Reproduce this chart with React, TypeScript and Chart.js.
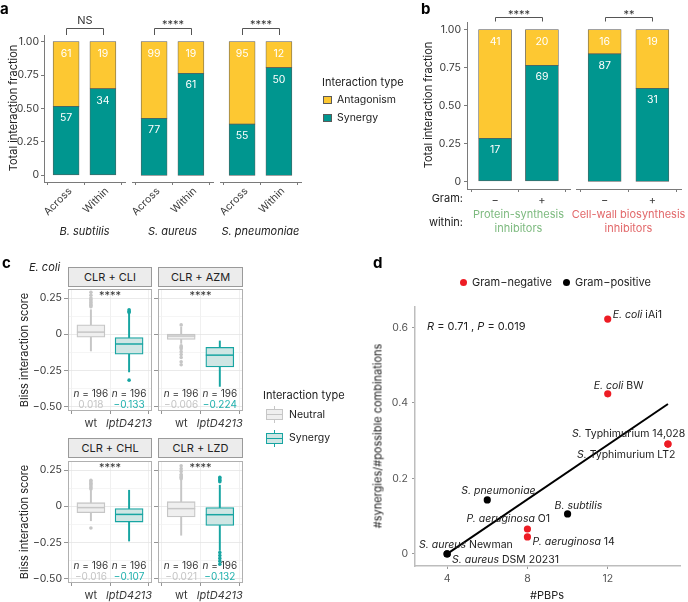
import React, { useEffect, useRef } from 'react';
import { Chart, registerables } from 'chart.js';
Chart.register(...registerables);

const W = 688;
const H = 602;
const FONT = 'Inter, "Noto Sans", sans-serif';
Chart.defaults.font.family = FONT;

// ---------------- Panel a data ----------------
const aSpecies = ['B. subtilis', 'S. aureus', 'S. pneumoniae'];
const aCategories = ['Across', 'Within'];
const aSynergyFraction = [[0.516, 0.648], [0.426, 0.763], [0.383, 0.806]];
const aSynergyCount = [[57, 34], [77, 61], [55, 50]];
const aAntagonismCount = [[61, 19], [99, 19], [95, 12]];
const aSignificance = ['NS', '****', '****'];

const fracTicks = [0, 0.25, 0.5, 0.75, 1];
const fracTickLabels = ['0', '0.25', '0.50', '0.75', '1.00'];

// ---------------- Panel b data ----------------
const bGroups = [['Protein-synthesis', 'inhibitors'], ['Cell-wall biosynthesis', 'inhibitors']];
const bGram = ['−', '+'];
const bSynergyFraction = [[0.284, 0.764], [0.84, 0.613]];
const bSynergyCount = [[17, 69], [87, 31]];
const bAntagonismCount = [[41, 20], [16, 19]];
const bSignificance = ['****', '**'];

// ---------------- Panel c data ----------------
const cPanels = ['CLR + CLI', 'CLR + AZM', 'CLR + CHL', 'CLR + LZD'];
const cStrains = ['wt', 'lptD4213'];
// [lower whisker, Q1, median, Q3, upper whisker]
const cWtBox = [
  [-0.115, -0.02, 0.015, 0.065, 0.17],
  [-0.063, -0.035, -0.012, 0.002, 0.05],
  [-0.1, -0.044, -0.009, 0.025, 0.11],
  [-0.2, -0.074, -0.016, 0.032, 0.18],
];
const cLptBox = [
  [-0.26, -0.137, -0.067, -0.023, 0.14],
  [-0.36, -0.225, -0.144, -0.09, -0.046],
  [-0.24, -0.109, -0.056, -0.016, 0.111],
  [-0.305, -0.132, -0.058, -0.009, 0.146],
];
const cWtOutliers = [
  [0.19, 0.2, 0.21, 0.22, 0.23, 0.24, 0.25, 0.27, 0.29],
  [0.065, -0.08, -0.09, -0.1, -0.12, -0.14, -0.16, -0.19, -0.21],
  [0.12, 0.13, 0.14, 0.15, 0.16, 0.17, 0.18, -0.15],
  [0.19, 0.2, 0.21, 0.22, 0.24, 0.26, 0.28],
];
const cLptOutliers = [
  [0.15, 0.16, 0.17, -0.317],
  [],
  [],
  [0.17, 0.18, 0.19, 0.2, -0.32, -0.34, -0.36, -0.38, -0.4],
];
const cCounts = [[196, 196], [196, 196], [196, 196], [196, 196]];
const cMedianText = [['0.018', '−0.133'], ['−0.006', '−0.224'], ['−0.016', '−0.107'], ['−0.021', '−0.132']];
const cSignificance = ['****', '****', '****', '****'];
const cMajorTicks = [-0.5, -0.25, 0, 0.25];
const cMajorTickLabels = ['−0.50', '−0.25', '0', '0.25'];
const cMinorTicks = [-0.375, -0.125, 0.125];

// ---------------- Panel d data ----------------
const dPBPs = [12, 12, 15, 15, 6, 10, 8, 8, 4, 4];
const dRatio = [0.622, 0.424, 0.291, 0.291, 0.143, 0.106, 0.066, 0.045, 0, 0];
const dGram = ['neg', 'neg', 'neg', 'neg', 'pos', 'pos', 'neg', 'neg', 'pos', 'pos'];
const dSpecies = ['E. coli', 'E. coli', 'S.', 'S.', 'S. pneumoniae', 'B. subtilis', 'P. aeruginosa', 'P. aeruginosa', 'S. aureus', 'S. aureus'];
const dStrain = ['iAi1', 'BW', 'Typhimurium 14,028', 'Typhimurium LT2', '', '', 'O1', '14', 'Newman', 'DSM 20231'];
const dFitX = [4, 15];
const dFitY = [0.0, 0.397];
const dXTicks = [4, 8, 12];
const dYTicks = [0, 0.2, 0.4, 0.6];
const dYTickLabels = ['0', '0.2', '0.4', '0.6'];

// ---------------- styles / layout ----------------
const TEAL = '#00968F';
const YELLOW = '#FDC832';
const BAR_EDGE = '#5a5a5a';
const AXIS = '#7a7a7a';
const TICK_TXT = '#3a3a3a';
const NEUTRAL_LINE = '#c6c6c6';
const NEUTRAL_FILL = '#efefef';
const SYN_LINE = '#17A5A2';
const SYN_FILL = '#cfe6e4';
const RED = '#ED1C24';
const GREEN_TXT = '#7dba7f';
const RED_TXT = '#e2686a';

const A_RECTS = [[44, 35, 125, 182], [132, 35, 213, 182], [220, 35, 301, 182]];
const B_RECTS = [[467, 22, 570, 189], [576, 22, 681, 189]];
const C_RECTS = [[68, 289, 152, 411], [158, 289, 243, 411], [68, 461, 152, 583], [158, 461, 243, 583]];
const D_RECT = [415, 307, 680, 566];
const D_LABEL_OFFSETS = [[5, -1], [-14, -5], [-96, -7], [-91, 14], [-26, -6], [-13, -5], [-61, -7], [5, 8], [-28, -6], [5, 9]];

type Part = { t: string; it?: boolean; c?: string };
function drawRich(ctx: CanvasRenderingContext2D, parts: Part[], x: number, y: number, align: 'left' | 'center', size: number, color = '#222') {
  ctx.textBaseline = 'alphabetic';
  ctx.textAlign = 'left';
  const fonts = parts.map((p) => `${p.it ? 'italic ' : ''}${size}px ${FONT}`);
  const widths = parts.map((p, i) => {
    ctx.font = fonts[i];
    return ctx.measureText(p.t).width;
  });
  const total = widths.reduce((a, b) => a + b, 0);
  let cx = align === 'center' ? x - total / 2 : x;
  parts.forEach((p, i) => {
    ctx.font = fonts[i];
    ctx.fillStyle = p.c || color;
    ctx.fillText(p.t, cx, y);
    cx += widths[i];
  });
}

function bracketPlugin(text: string, top: number, bottom: number, baseline: number) {
  return {
    id: 'bracket',
    afterDraw(chart: any) {
      const { ctx, scales } = chart;
      const x1 = Math.round(scales.x.getPixelForValue(1)) + 0.5;
      const x2 = Math.round(scales.x.getPixelForValue(2)) + 0.5;
      ctx.save();
      ctx.strokeStyle = '#555';
      ctx.lineWidth = 1;
      ctx.beginPath();
      ctx.moveTo(x1, bottom);
      ctx.lineTo(x1, top + 0.5);
      ctx.lineTo(x2, top + 0.5);
      ctx.lineTo(x2, bottom);
      ctx.stroke();
      ctx.fillStyle = '#333';
      ctx.font = `11px ${FONT}`;
      ctx.textAlign = 'center';
      ctx.textBaseline = 'alphabetic';
      ctx.fillText(text, (x1 + x2) / 2, baseline);
      ctx.restore();
    },
  };
}

function countPlugin(frac: number[], syn: number[], ant: number[]) {
  return {
    id: 'counts',
    afterDatasetsDraw(chart: any) {
      const { ctx, scales } = chart;
      ctx.save();
      ctx.fillStyle = '#fff';
      ctx.font = `10.5px ${FONT}`;
      ctx.textAlign = 'center';
      ctx.textBaseline = 'alphabetic';
      frac.forEach((f, i) => {
        const px = scales.x.getPixelForValue(i + 1);
        ctx.fillText(String(ant[i]), px, scales.y.getPixelForValue(1) + 15);
        ctx.fillText(String(syn[i]), px, scales.y.getPixelForValue(f) + 15);
      });
      ctx.restore();
    },
  };
}

function barFacet(p: {
  rect: number[]; showY: boolean; frac: number[]; syn: number[]; ant: number[]; cats: string[];
  rotate: boolean; barW: number; xH: number; yW: number; yPad: number; tickSize: number; xPad: number; labelOffset: number;
  signif: string; bTop: number; bBottom: number; sBase: number;
}) {
  const [l, t, r, b] = p.rect;
  const yW = p.showY ? p.yW : 0;
  const synData = p.frac.map((f, i) => ({ x: i + 1, y: f }));
  const antData = p.frac.map((f, i) => ({ x: i + 1, y: 1 - f }));
  return {
    type: 'bar',
    data: {
      datasets: [
        { label: 'Synergy', data: synData, backgroundColor: TEAL, borderColor: BAR_EDGE, borderWidth: 0.7, borderSkipped: false, barThickness: p.barW },
        { label: 'Antagonism', data: antData, backgroundColor: YELLOW, borderColor: BAR_EDGE, borderWidth: 0.7, borderSkipped: false, barThickness: p.barW },
      ],
    },
    options: {
      animation: false, responsive: false, events: [],
      layout: { autoPadding: false, padding: { left: l - yW, top: t, right: W - r, bottom: H - b - p.xH } },
      plugins: { legend: { display: false }, tooltip: { enabled: false } },
      scales: {
        x: {
          type: 'linear', stacked: true, min: 0.4, max: 2.6, offset: false,
          afterBuildTicks: (s: any) => { s.ticks = [{ value: 1 }, { value: 2 }]; },
          afterFit: (s: any) => { s.height = p.xH; },
          ticks: {
            callback: (v: any) => p.cats[Math.round(v) - 1], autoSkip: false,
            maxRotation: p.rotate ? 45 : 0, minRotation: p.rotate ? 45 : 0, labelOffset: p.labelOffset,
            color: TICK_TXT, font: { size: p.tickSize }, padding: p.xPad,
          },
          grid: { display: true, drawOnChartArea: false, drawTicks: true, tickLength: 3, tickColor: AXIS, color: AXIS },
          border: { display: true, color: AXIS, width: 1 },
        },
        y: {
          display: p.showY, stacked: true, min: -0.05, max: 1.05,
          afterBuildTicks: (s: any) => { s.ticks = fracTicks.map((v) => ({ value: v })); },
          afterFit: (s: any) => { s.width = yW; },
          ticks: { callback: (_v: any, i: number) => fracTickLabels[i], color: TICK_TXT, font: { size: 10.5 }, padding: p.yPad },
          grid: { display: true, drawOnChartArea: false, tickLength: 3, tickColor: AXIS, color: AXIS },
          border: { display: true, color: AXIS, width: 1 },
        },
      },
    },
    plugins: [countPlugin(p.frac, p.syn, p.ant), bracketPlugin(p.signif, p.bTop, p.bBottom, p.sBase)],
  };
}

function boxFacet(i: number) {
  const [l, t, r, b] = C_RECTS[i];
  const showY = i % 2 === 0;
  const yW = showY ? 50 : 0;
  const xH = 20;
  const wt = cWtBox[i];
  const lp = cLptBox[i];
  const lineCols = [NEUTRAL_LINE, SYN_LINE];
  const fillCols = [NEUTRAL_FILL, SYN_FILL];
  const textPlugin = {
    id: 'boxText',
    afterDraw(chart: any) {
      const { ctx, chartArea: ca, scales } = chart;
      ctx.save();
      ctx.strokeStyle = '#b0b0b0';
      ctx.lineWidth = 1;
      ctx.strokeRect(ca.left + 0.5, ca.top + 0.5, ca.right - ca.left - 1, ca.bottom - ca.top - 1);
      ctx.fillStyle = '#333';
      ctx.font = `11px ${FONT}`;
      ctx.textAlign = 'center';
      ctx.textBaseline = 'alphabetic';
      ctx.fillText(cSignificance[i], (ca.left + ca.right) / 2, ca.top + 10);
      [0, 1].forEach((k) => {
        const px = scales.x.getPixelForValue(k + 1);
        drawRich(ctx, [{ t: 'n', it: true }, { t: ' = ' + cCounts[i][k] }], px, ca.bottom - 14, 'center', 10, '#333');
        drawRich(ctx, [{ t: cMedianText[i][k] }], px, ca.bottom - 3, 'center', 10, k === 0 ? '#c4c4c4' : '#1fb0ad');
      });
      ctx.restore();
    },
  };
  return {
    type: 'bar',
    data: {
      datasets: [
        { type: 'scatter', label: 'wt outliers', data: cWtOutliers[i].map((v) => ({ x: 1, y: v })), pointRadius: 1.8, backgroundColor: NEUTRAL_LINE, pointBackgroundColor: NEUTRAL_LINE, pointBorderWidth: 0, order: 0 },
        { type: 'scatter', label: 'lptD outliers', data: cLptOutliers[i].map((v) => ({ x: 2, y: v })), pointRadius: 1.8, backgroundColor: SYN_LINE, pointBackgroundColor: SYN_LINE, pointBorderWidth: 0, order: 0 },
        { type: 'scatter', label: 'median', data: [{ x: 1, y: wt[2] }, { x: 2, y: lp[2] }], pointStyle: 'line', pointRadius: 14, pointBorderColor: lineCols, borderColor: lineCols, pointBorderWidth: 1.5, order: 1 },
        { type: 'bar', label: 'box', data: [{ x: 1, y: [wt[1], wt[3]] }, { x: 2, y: [lp[1], lp[3]] }], backgroundColor: fillCols, borderColor: lineCols, borderWidth: 1.3, borderSkipped: false, barThickness: 28, grouped: false, order: 2 },
        { type: 'bar', label: 'whiskers', data: [{ x: 1, y: [wt[3], wt[4]] }, { x: 1, y: [wt[0], wt[1]] }, { x: 2, y: [lp[3], lp[4]] }, { x: 2, y: [lp[0], lp[1]] }], backgroundColor: [NEUTRAL_LINE, NEUTRAL_LINE, SYN_LINE, SYN_LINE], borderWidth: 0, barThickness: 1.3, grouped: false, order: 3 },
      ],
    },
    options: {
      animation: false, responsive: false, events: [],
      layout: { autoPadding: false, padding: { left: l - yW, top: t, right: W - r, bottom: H - b - xH } },
      plugins: { legend: { display: false }, tooltip: { enabled: false } },
      scales: {
        x: {
          type: 'linear', min: 0.4, max: 2.6, offset: false,
          afterBuildTicks: (s: any) => { s.ticks = [{ value: 1 }, { value: 2 }]; },
          afterFit: (s: any) => { s.height = xH; },
          ticks: {
            callback: (v: any) => cStrains[Math.round(v) - 1], autoSkip: false, maxRotation: 0,
            color: TICK_TXT, font: (ctx: any) => ({ size: 11, style: ctx.index === 1 ? 'italic' : 'normal' }), padding: 3,
          },
          grid: { color: '#ececec', tickColor: AXIS, tickLength: 3, lineWidth: 0.8 },
          border: { display: false },
        },
        y: {
          min: -0.53, max: 0.313,
          afterBuildTicks: (s: any) => { s.ticks = [...cMajorTicks, ...cMinorTicks].sort((a, c) => a - c).map((v) => ({ value: v })); },
          afterFit: (s: any) => { s.width = yW; },
          ticks: {
            display: showY,
            callback: (v: any) => { const k = cMajorTicks.indexOf(v); return k >= 0 ? cMajorTickLabels[k] : ''; },
            color: TICK_TXT, font: { size: 10.5 }, padding: 2,
          },
          grid: {
            color: (ctx: any) => (cMajorTicks.includes(ctx.tick && ctx.tick.value) ? '#e4e4e4' : '#f2f2f2'),
            tickColor: (ctx: any) => (cMajorTicks.includes(ctx.tick && ctx.tick.value) ? AXIS : 'rgba(0,0,0,0)'),
            tickLength: 4, lineWidth: 0.8,
          },
          border: { display: false },
        },
      },
    },
    plugins: [textPlugin],
  };
}

function scatterD() {
  const [l, t, r, b] = D_RECT;
  const yW = 40;
  const xH = 25;
  const pts = dPBPs.map((x, i) => ({ x, y: dRatio[i] }));
  const labelPlugin = {
    id: 'dLabels',
    afterDatasetsDraw(chart: any) {
      const { ctx, scales } = chart;
      ctx.save();
      dPBPs.forEach((px, i) => {
        const [dx, dy] = D_LABEL_OFFSETS[i];
        const parts: Part[] = [{ t: dSpecies[i], it: true }];
        if (dStrain[i]) parts.push({ t: ' ' + dStrain[i] });
        drawRich(ctx, parts, scales.x.getPixelForValue(px) + dx, scales.y.getPixelForValue(dRatio[i]) + dy, 'left', 10.5, '#222');
      });
      ctx.restore();
    },
  };
  return {
    type: 'scatter',
    data: {
      datasets: [
        { label: 'Gram−negative', data: pts.filter((_, i) => dGram[i] === 'neg'), pointRadius: 3.6, backgroundColor: RED, pointBackgroundColor: RED, pointBorderWidth: 0, order: 0 },
        { label: 'Gram−positive', data: pts.filter((_, i) => dGram[i] === 'pos'), pointRadius: 3.6, backgroundColor: '#000', pointBackgroundColor: '#000', pointBorderWidth: 0, order: 0 },
        { type: 'line', label: 'fit', data: dFitX.map((x, i) => ({ x, y: dFitY[i] })), borderColor: '#000', borderWidth: 2, pointRadius: 0, showLine: true, order: 1 },
      ],
    },
    options: {
      animation: false, responsive: false, events: [],
      layout: { autoPadding: false, padding: { left: l - yW, top: t, right: W - r, bottom: H - b - xH } },
      plugins: { legend: { display: false }, tooltip: { enabled: false } },
      scales: {
        x: {
          type: 'linear', min: 2.4, max: 15.6,
          afterBuildTicks: (s: any) => { s.ticks = dXTicks.map((v) => ({ value: v })); },
          afterFit: (s: any) => { s.height = xH; },
          ticks: { callback: (v: any) => String(v), color: '#555', font: { size: 10.5 }, padding: 4 },
          grid: { drawOnChartArea: false, tickLength: 3, tickColor: '#999', color: '#999' },
          border: { display: true, color: '#bdbdbd', width: 1.5 },
        },
        y: {
          type: 'linear', min: -0.032, max: 0.654,
          afterBuildTicks: (s: any) => { s.ticks = dYTicks.map((v) => ({ value: v })); },
          afterFit: (s: any) => { s.width = yW; },
          ticks: { callback: (_v: any, i: number) => dYTickLabels[i], color: '#555', font: { size: 10.5 }, padding: 4 },
          grid: { drawOnChartArea: false, tickLength: 3, tickColor: '#999', color: '#999' },
          border: { display: true, color: '#bdbdbd', width: 1.5 },
        },
      },
    },
    plugins: [labelPlugin],
  };
}

const BUILDERS: (() => any)[] = [
  ...aSpecies.map((_, i) => () => barFacet({
    rect: A_RECTS[i], showY: i === 0, frac: aSynergyFraction[i], syn: aSynergyCount[i], ant: aAntagonismCount[i],
    cats: aCategories, rotate: true, barW: 26, xH: 45, yW: 30, yPad: 2, tickSize: 10.5, xPad: 0, labelOffset: 4,
    signif: aSignificance[i], bTop: 28, bBottom: 35, sBase: aSignificance[i] === 'NS' ? 24 : 28,
  })),
  ...bGroups.map((_, i) => () => barFacet({
    rect: B_RECTS[i], showY: i === 0, frac: bSynergyFraction[i], syn: bSynergyCount[i], ant: bAntagonismCount[i],
    cats: bGram, rotate: false, barW: 33, xH: 20, yW: 30, yPad: 3, tickSize: 11, xPad: 2, labelOffset: 0,
    signif: bSignificance[i], bTop: 17, bBottom: 21.5, sBase: 17.5,
  })),
  ...cPanels.map((_, i) => () => boxFacet(i)),
  () => scatterD(),
];

function ChartCanvas({ build }: { build: () => any }) {
  const ref = useRef<HTMLCanvasElement>(null);
  useEffect(() => {
    const chart = new Chart(ref.current as HTMLCanvasElement, build());
    return () => chart.destroy();
  }, []);
  return <canvas ref={ref} width={W} height={H} style={{ position: 'absolute', left: 0, top: 0, width: W, height: H }} />;
}

type TP = {
  x: number; y: number; children: React.ReactNode; size?: number; anchor?: 'start' | 'middle' | 'end';
  color?: string; weight?: number; italic?: boolean; rotate?: boolean;
};
function Txt({ x, y, children, size = 11, anchor = 'start', color = '#222', weight = 400, italic = false, rotate = false }: TP) {
  const tx = anchor === 'start' ? '0' : anchor === 'middle' ? '-50%' : '-100%';
  const style: React.CSSProperties = {
    position: 'absolute', left: x, top: y, fontSize: size, lineHeight: 1, fontFamily: FONT, color,
    fontWeight: weight, fontStyle: italic ? 'italic' : 'normal', whiteSpace: 'nowrap',
    transform: rotate ? 'translate(-50%,-50%) rotate(-90deg)' : `translate(${tx},-50%)`,
  };
  return <div style={style}>{children}</div>;
}

function Swatch({ x, y, color }: { x: number; y: number; color: string }) {
  return <div style={{ position: 'absolute', left: x, top: y, width: 9, height: 8, background: color, border: `0.7px solid ${BAR_EDGE}`, boxSizing: 'border-box' }} />;
}

function BoxIcon({ x, y, line, fill }: { x: number; y: number; line: string; fill: string }) {
  return (
    <div style={{ position: 'absolute', left: x, top: y, width: 17, height: 17 }}>
      <div style={{ position: 'absolute', left: 8, top: 0, width: 1.3, height: 17, background: line }} />
      <div style={{ position: 'absolute', left: 0, top: 3, width: 17, height: 11, boxSizing: 'border-box', border: `1.3px solid ${line}`, background: fill }} />
      <div style={{ position: 'absolute', left: 0, top: 8, width: 17, height: 1.3, background: line }} />
    </div>
  );
}

function Strip({ rect, top, label }: { rect: number[]; top: number; label: string }) {
  return (
    <div style={{
      position: 'absolute', left: rect[0], top, width: rect[2] - rect[0], height: 20, boxSizing: 'border-box',
      border: '1px solid #9a9a9a', background: '#ececec', display: 'flex', alignItems: 'center', justifyContent: 'center',
      fontSize: 11, color: '#222', fontFamily: FONT,
    }}>{label}</div>
  );
}

export default function App() {
  const center = (r: number[]) => (r[0] + r[2]) / 2;
  return (
    <div style={{ position: 'absolute', left: 0, top: 0, width: W, height: H, overflow: 'hidden', background: '#fff', fontFamily: FONT }}>
      {BUILDERS.map((b, i) => <ChartCanvas key={i} build={b} />)}

      {/* panel a */}
      <Txt x={0} y={8} size={15} weight={700} color="#000">a</Txt>
      <Txt x={13} y={108} rotate>Total interaction fraction</Txt>
      {aSpecies.map((s, i) => <Txt key={s} x={center(A_RECTS[i])} y={231} anchor="middle" italic>{s}</Txt>)}
      <Txt x={322} y={82}>Interaction type</Txt>
      <Swatch x={323} y={96} color={YELLOW} />
      <Txt x={337} y={100} size={10.5}>Antagonism</Txt>
      <Swatch x={323} y={114} color={TEAL} />
      <Txt x={337} y={118} size={10.5}>Synergy</Txt>

      {/* panel b */}
      <Txt x={421} y={8} size={15} weight={700} color="#000">b</Txt>
      <Txt x={428} y={105} rotate>Total interaction fraction</Txt>
      <Txt x={463} y={198} anchor="end">Gram:</Txt>
      <Txt x={463} y={222} anchor="end">within:</Txt>
      {bGroups.map((g, i) => (
        <React.Fragment key={i}>
          <Txt x={center(B_RECTS[i])} y={214} anchor="middle" color={i === 0 ? GREEN_TXT : RED_TXT}>{g[0]}</Txt>
          <Txt x={center(B_RECTS[i])} y={228} anchor="middle" color={i === 0 ? GREEN_TXT : RED_TXT}>{g[1]}</Txt>
        </React.Fragment>
      ))}

      {/* panel c */}
      <Txt x={2} y={262} size={15} weight={700} color="#000">c</Txt>
      <Txt x={29} y={267} italic>E. coli</Txt>
      <Txt x={24} y={350} rotate>Bliss interaction score</Txt>
      <Txt x={24} y={522} rotate>Bliss interaction score</Txt>
      {cPanels.map((p, i) => <Strip key={p} rect={C_RECTS[i]} top={i < 2 ? 267 : 438} label={p} />)}
      <Txt x={263} y={395}>Interaction type</Txt>
      <BoxIcon x={266} y={406} line={NEUTRAL_LINE} fill={NEUTRAL_FILL} />
      <Txt x={289} y={415} size={10.5}>Neutral</Txt>
      <BoxIcon x={266} y={430} line={SYN_LINE} fill={SYN_FILL} />
      <Txt x={289} y={438} size={10.5}>Synergy</Txt>

      {/* panel d */}
      <Txt x={373} y={262} size={15} weight={700} color="#000">d</Txt>
      <div style={{ position: 'absolute', left: 459.5, top: 278.5, width: 7, height: 7, borderRadius: 4, background: RED }} />
      <Txt x={472} y={282}>Gram−negative</Txt>
      <div style={{ position: 'absolute', left: 562.5, top: 278.5, width: 7, height: 7, borderRadius: 4, background: '#000' }} />
      <Txt x={575} y={282}>Gram−positive</Txt>
      <Txt x={427} y={326}><i>R</i> = 0.71 , <i>P</i> = 0.019</Txt>
      <Txt x={378} y={436} rotate>#synergies/#possible combinations</Txt>
      <Txt x={547} y={595} anchor="middle">#PBPs</Txt>
    </div>
  );
}
